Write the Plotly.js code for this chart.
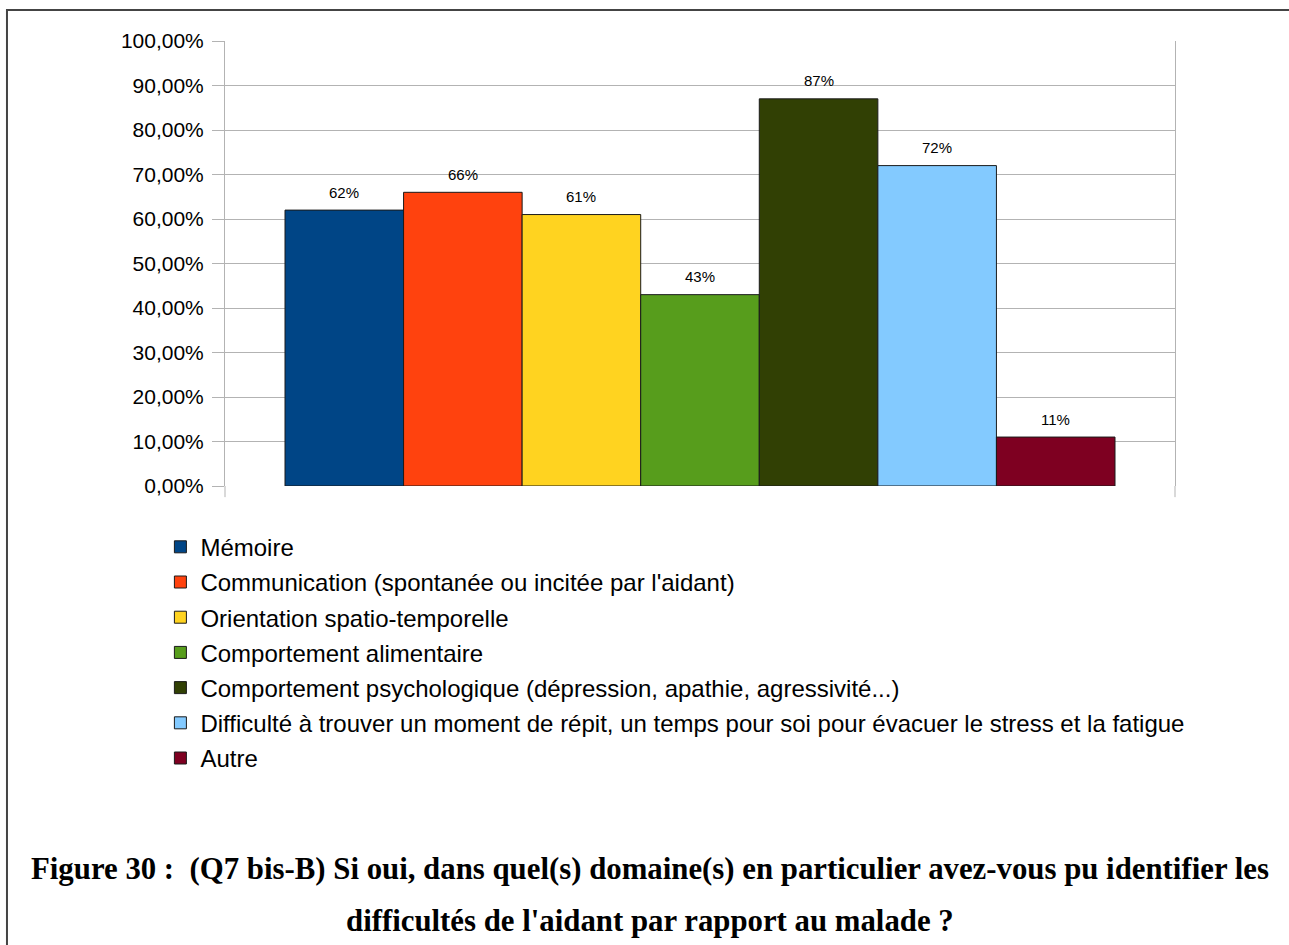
<!DOCTYPE html>
<html>
<head>
<meta charset="utf-8">
<script src="https://cdn.plot.ly/plotly-3.0.1.min.js"></script>
<style>html,body{margin:0;padding:0;background:#fff}#chart{width:1289px;height:945px}</style>
</head>
<body>
<div id="chart"></div>
<script>
const categories = [
  "Mémoire",
  "Communication (spontanée ou incitée par l'aidant)",
  "Orientation spatio-temporelle",
  "Comportement alimentaire",
  "Comportement psychologique (dépression, apathie, agressivité...)",
  "Difficulté à trouver un moment de répit, un temps pour soi pour évacuer le stress et la fatigue",
  "Autre"
];
const values = [0.62, 0.66, 0.61, 0.43, 0.87, 0.72, 0.11];
const valueLabels = ["62%", "66%", "61%", "43%", "87%", "72%", "11%"];
const colors = ["#004586", "#ff420e", "#ffd320", "#579d1c", "#314004", "#83caff", "#7e0021"];
const yTicks = [0, 0.1, 0.2, 0.3, 0.4, 0.5, 0.6, 0.7, 0.8, 0.9, 1.0];
const captionLines = [
  "Figure 30 :  (Q7 bis-B) Si oui, dans quel(s) domaine(s) en particulier avez-vous pu identifier les",
  "difficultés de l'aidant par rapport au malade ?"
];

const FONT = 'Liberation Sans, Arial, sans-serif';

const traces = categories.map((name, i) => ({
  type: 'bar',
  name: name,
  x: [name],
  y: [values[i]],
  legendgroup: 'g' + i,
  marker: {color: colors[i], line: {color: '#1a1a1a', width: 1}},
  hoverinfo: 'name+y'
}));

const labelAnnotations = categories.map((name, i) => ({
  text: valueLabels[i],
  xref: 'x', yref: 'y', x: name, y: values[i],
  xanchor: 'center', yanchor: 'middle', yshift: 18,
  showarrow: false,
  font: {family: FONT, size: 15, color: '#000'}
}));

const captionAnnotations = captionLines.map((t, i) => ({
  text: '<b>' + t + '</b>',
  xref: 'paper', yref: 'paper',
  x: 0.447, y: i === 0 ? -0.86 : -0.978,
  xanchor: 'center', yanchor: 'middle', showarrow: false,
  font: {family: 'Liberation Serif, Times New Roman, serif', size: 30.8, color: '#000'}
}));

const layout = {
  width: 1289, height: 945,
  margin: {l: 225, r: 114, t: 41, b: 459},
  paper_bgcolor: '#fff', plot_bgcolor: '#fff',
  separators: ', ',
  barmode: 'relative',
  bargap: 0,
  font: {family: FONT, color: '#000'},
  showlegend: true,
  legend: {
    x: -0.068, xanchor: 'left', y: -0.087, yanchor: 'top',
    font: {family: FONT, size: 24, color: '#000'},
    traceorder: 'grouped', tracegroupgap: 1,
    bgcolor: 'rgba(0,0,0,0)'
  },
  xaxis: {
    type: 'category', categoryarray: categories, categoryorder: 'array',
    range: [-1.006, 7.006], fixedrange: true,
    showticklabels: false, ticks: '',
    showgrid: false, zeroline: false, showline: false
  },
  yaxis: {
    range: [0, 1], tickvals: yTicks, tickformat: '.2%',
    ticks: 'outside', ticklen: 12, tickcolor: '#b3b3b3',
    ticklabelstandoff: 4,
    showgrid: true, gridcolor: '#b3b3b3', gridwidth: 1,
    showline: true, linecolor: '#b3b3b3', linewidth: 1, mirror: true,
    zeroline: false,
    tickfont: {family: FONT, size: 21, color: '#000'}
  },
  shapes: [
    {type: 'rect', xref: 'paper', yref: 'paper',
     x0: -0.2295, x1: 1.14, y0: -1.05, y1: 1.0697,
     line: {color: '#444', width: 2}, fillcolor: 'rgba(0,0,0,0)', layer: 'below'},
    {type: 'line', xref: 'paper', yref: 'paper', x0: 0, x1: 0, y0: 0, y1: -0.025,
     line: {color: '#b3b3b3', width: 1}},
    {type: 'line', xref: 'paper', yref: 'paper', x0: 1, x1: 1, y0: 0, y1: -0.025,
     line: {color: '#b3b3b3', width: 1}}
  ],
  annotations: labelAnnotations.concat(captionAnnotations)
};

Plotly.newPlot('chart', traces, layout, {displayModeBar: false, staticPlot: true});
</script>
</body>
</html>
